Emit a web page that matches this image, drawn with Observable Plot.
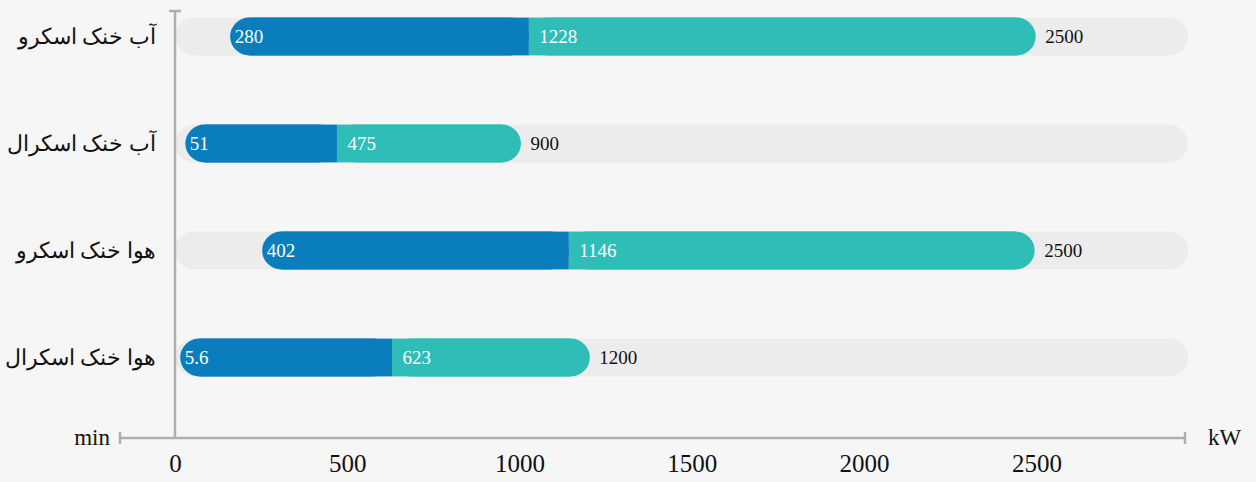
<!DOCTYPE html>
<html>
<head>
<meta charset="utf-8">
<script src="https://cdn.jsdelivr.net/npm/d3@7"></script>
<script src="https://cdn.jsdelivr.net/npm/@observablehq/plot@0.6"></script>
<style>
  html, body { margin: 0; padding: 0; background: #f6f6f6; }
  #chart svg { display: block; }
</style>
</head>
<body>
<div id="chart"></div>
<script>
// ---- data ----
const categories = ["آب خنک اسکرو", "آب خنک اسکرال", "هوا خنک اسکرو", "هوا خنک اسکرال"];
const minLabels = ["280", "51", "402", "5.6"];
const midLabels = ["1228", "475", "1146", "623"];
const maxLabels = ["2500", "900", "2500", "1200"];
const barStart = [160, 30, 253, 15];
const barMid = [1027, 470, 1143, 630];
const barEnd = [2498, 1004, 2495, 1204];
const xTicks = [0, 500, 1000, 1500, 2000, 2500];
const xMax = 2940;

const rows = categories.map((c, i) => ({
  cat: c, start: barStart[i], mid: barMid[i], end: barEnd[i],
  minL: minLabels[i], midL: midLabels[i], maxL: maxLabels[i]
}));

const DARK = "#0a7ebd", TEAL = "#2ebdb7", GRAY = "#ececec", AXIS = "#afafb1";
const FONT = "'Liberation Serif', 'Times New Roman', serif";
const ins = 34.6;
const R = 19;

const plot = Plot.plot({
  width: 1256,
  height: 482,
  marginLeft: 175,
  marginRight: 68,
  marginTop: 0,
  marginBottom: 44,
  style: { background: "#f6f6f6", fontFamily: FONT, color: "#000", overflow: "visible" },
  x: { domain: [0, xMax] },
  y: { type: "band", domain: categories, range: [-17.6, 411.1], padding: 0 },
  marks: [
    Plot.barX(rows, { x1: 0, x2: xMax, y: "cat", fill: GRAY, rx: R, insetTop: ins, insetBottom: ins }),
    // teal segment: rounded right end, square left
    Plot.barX(rows, { x1: "mid", x2: "end", y: "cat", fill: TEAL, rx: R, insetTop: ins, insetBottom: ins }),
    Plot.barX(rows, { x1: "mid", x2: "end", y: "cat", fill: TEAL, insetRight: R, insetTop: ins, insetBottom: ins }),
    // dark segment: rounded left end, square right
    Plot.barX(rows, { x1: "start", x2: "mid", y: "cat", fill: DARK, rx: R, insetTop: ins, insetBottom: ins }),
    Plot.barX(rows, { x1: "start", x2: "mid", y: "cat", fill: DARK, insetLeft: R, insetTop: ins, insetBottom: ins }),
    Plot.text(rows, { x: "start", y: "cat", text: "minL", dx: 4, textAnchor: "start", fill: "#fff", fontSize: 19 }),
    Plot.text(rows, { x: "mid", y: "cat", text: "midL", dx: 10, textAnchor: "start", fill: "#fff", fontSize: 19 }),
    Plot.text(rows, { x: "end", y: "cat", text: "maxL", dx: 9, textAnchor: "start", fill: "#111", fontSize: 19 }),
    Plot.axisY({ tickSize: 0, tickPadding: 20, fontSize: 22, fill: "#111", label: null }),
    Plot.axisX({ ticks: xTicks, tickSize: 0, tickPadding: 16, fontSize: 25, fill: "#111", label: null, tickFormat: d => String(d) })
  ]
});

document.getElementById("chart").appendChild(plot);

// axis decorations (lines, caps, unit labels)
const svg = d3.select(plot);
const xs = plot.scale("x");
const x0 = xs.apply(0);
const yAxis = 438;
const g = svg.append("g").attr("stroke", AXIS).attr("stroke-width", 2.5).attr("fill", "none");
g.append("line").attr("x1", x0).attr("x2", x0).attr("y1", 11).attr("y2", yAxis);
g.append("line").attr("x1", x0 - 6).attr("x2", x0 + 6).attr("y1", 11).attr("y2", 11);
g.append("line").attr("x1", 120).attr("x2", 1185).attr("y1", yAxis).attr("y2", yAxis);
g.append("line").attr("x1", 120).attr("x2", 120).attr("y1", yAxis - 6).attr("y2", yAxis + 6);
g.append("line").attr("x1", 1185).attr("x2", 1185).attr("y1", yAxis - 6).attr("y2", yAxis + 6);
svg.append("text").attr("x", 110).attr("y", yAxis).attr("dy", "0.32em").attr("text-anchor", "end")
  .attr("font-size", 23).attr("font-family", FONT).attr("fill", "#111").text("min");
svg.append("text").attr("x", 1208).attr("y", yAxis).attr("dy", "0.32em").attr("text-anchor", "start")
  .attr("font-size", 23).attr("font-family", FONT).attr("fill", "#111").text("kW");
</script>
</body>
</html>
